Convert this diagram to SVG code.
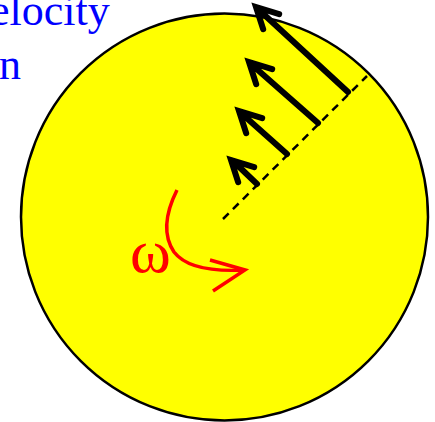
<svg xmlns="http://www.w3.org/2000/svg" width="435" height="422" viewBox="0 0 435 422">
<style>
.lbl{font-family:"Liberation Serif","Times New Roman",serif;font-size:44px;fill:#0000ff}
.vel{fill:none;stroke:#000;stroke-width:6;stroke-linejoin:miter;stroke-linecap:round}
.rot{fill:none;stroke:#ff0000;stroke-width:3.5}
</style>
<rect width="435" height="422" fill="#fff"/>
<g id="disk">
<circle cx="224.5" cy="217" r="203.5" fill="#ffff00" stroke="#000" stroke-width="2.5"/>
</g>
<g id="labels">
<text class="lbl" x="-10" y="25">elocity</text>
<text class="lbl" x="-1" y="79">n</text>
</g>
<g id="connectors">
<line x1="223" y1="219" x2="367" y2="76" stroke="#000" stroke-width="2.5" stroke-dasharray="8,6"/>
<path class="vel" d="M257,184 L233,161 M254.2,167.2 L231,160 L238.2,182.2"/>
<path class="vel" d="M287,154 L241,113 M262.2,118.2 L239,111 L246.2,133.2"/>
<path class="vel" d="M318,123 L251,64 M272.2,69.2 L249,62 L256.2,84.2"/>
<path class="vel" d="M348,92 L258,9 M279.2,14.2 L256,7 L263.2,29.2"/>
<g id="omega">
<path class="rot" d="M177,190 Q158,228 174,252 Q190,273 245,270"/>
<path class="rot" d="M210,260 L245,270 L213,291"/>
<text x="130" y="272" font-family="'Liberation Serif','Times New Roman',serif" font-size="62" fill="#ff0000">ω</text>
</g>
</g>
</svg>
